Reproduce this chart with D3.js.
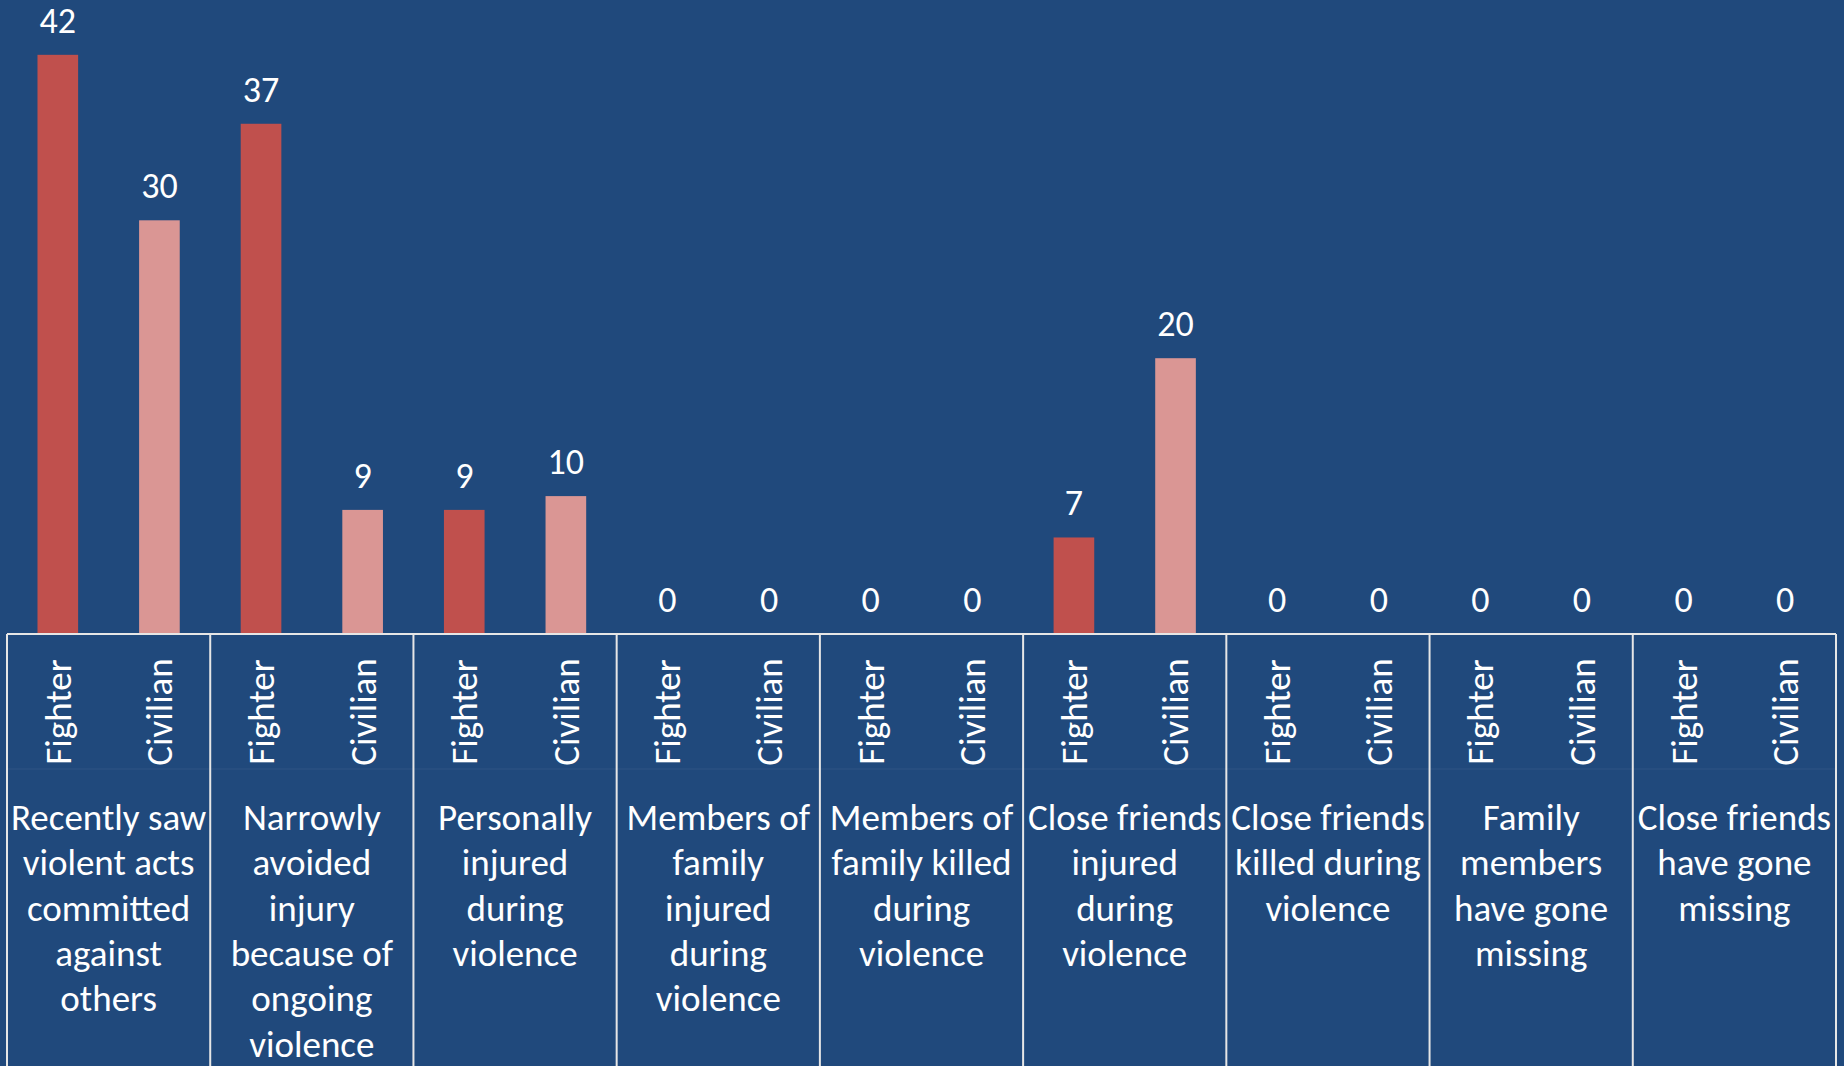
<!DOCTYPE html>
<html>
<head>
<meta charset="utf-8">
<script src="https://cdn.jsdelivr.net/npm/d3@7"></script>
<style>
  html, body { margin: 0; padding: 0; background: #20497C; }
  svg { display: block; }
  text { font-family: Carlito, Lato, "Open Sans", sans-serif; fill: #ffffff; }
</style>
</head>
<body>
<div id="chart"></div>
<script>
// Chart data
var categories = [
  "Recently saw violent acts committed against others",
  "Narrowly avoided injury because of ongoing violence",
  "Personally injured during violence",
  "Members of family injured during violence",
  "Members of family killed during violence",
  "Close friends injured during violence",
  "Close friends killed during violence",
  "Family members have gone missing",
  "Close friends have gone missing"
];
// wrapped lines of the category labels, as drawn in the picture
var categoryLines = [
  ["Recently saw", "violent acts", "committed", "against", "others"],
  ["Narrowly", "avoided", "injury", "because of", "ongoing", "violence"],
  ["Personally", "injured", "during", "violence"],
  ["Members of", "family", "injured", "during", "violence"],
  ["Members of", "family killed", "during", "violence"],
  ["Close friends", "injured", "during", "violence"],
  ["Close friends", "killed during", "violence"],
  ["Family", "members", "have gone", "missing"],
  ["Close friends", "have gone", "missing"]
];
var seriesNames = ["Fighter", "Civilian"];
var fighterValues = [42, 37, 9, 0, 0, 7, 0, 0, 0];
var civilianValues = [30, 9, 10, 0, 0, 20, 0, 0, 0];
var yMax = 45;

var svgWidth = 1844;
var svgHeight = 1066;
var colors = { Fighter: "#C0504D", Civilian: "#DA9694" };

var svg = d3.select("#chart")
  .append("svg")
  .attr("width", svgWidth)
  .attr("height", svgHeight);

svg.append("rect")
  .attr("width", svgWidth)
  .attr("height", svgHeight)
  .attr("fill", "#20497C");

var baseY = 634;

// Scales
var x0 = d3.scaleBand()
  .domain(categories)
  .range([7, 1836]);

var x1 = d3.scaleBand()
  .domain(seriesNames)
  .range([0, x0.bandwidth()]);

var y = d3.scaleLinear()
  .domain([0, yMax])
  .range([baseY, baseY - yMax * 13.79]);

var rows = [];
categories.forEach(function (c, i) {
  rows.push({ cat: c, series: "Fighter", value: fighterValues[i] });
  rows.push({ cat: c, series: "Civilian", value: civilianValues[i] });
});

var barW = x1.bandwidth() * 0.4;

// Bars
svg.append("g").selectAll("rect")
  .data(rows)
  .enter()
  .append("rect")
  .attr("x", d => x0(d.cat) + x1(d.series) + (x1.bandwidth() - barW) / 2)
  .attr("y", d => y(d.value))
  .attr("width", barW)
  .attr("height", d => baseY - y(d.value))
  .attr("fill", d => colors[d.series]);

// Value labels
svg.append("g").selectAll("text")
  .data(rows)
  .enter()
  .append("text")
  .attr("x", d => x0(d.cat) + x1(d.series) + x1.bandwidth() / 2)
  .attr("y", d => y(d.value) - 22)
  .attr("text-anchor", "middle")
  .style("font-size", "36px")
  .text(d => d.value);

// Axis lines: baseline, faint row separator, group dividers
var axisG = svg.append("g");
axisG.append("line")
  .attr("x1", x0.range()[0]).attr("x2", x0.range()[1])
  .attr("y1", baseY).attr("y2", baseY)
  .attr("stroke", "#E6E6E6").attr("stroke-width", 2);

axisG.append("line")
  .attr("x1", x0.range()[0]).attr("x2", x0.range()[1])
  .attr("y1", 769).attr("y2", 769)
  .attr("stroke", "#8096B4").attr("stroke-width", 1)
  .attr("opacity", 0.15);

var dividers = categories.map(c => x0(c)).concat([x0.range()[1]]);
axisG.selectAll(".div")
  .data(dividers)
  .enter()
  .append("line")
  .attr("x1", d => d).attr("x2", d => d)
  .attr("y1", baseY).attr("y2", svgHeight)
  .attr("stroke", "#E6E6E6").attr("stroke-width", 2);

// Rotated series labels
svg.append("g").selectAll("text")
  .data(rows)
  .enter()
  .append("text")
  .attr("transform", d => `translate(${x0(d.cat) + x1(d.series) + x1.bandwidth() / 2}, 712) rotate(-90)`)
  .attr("text-anchor", "middle")
  .attr("dy", "0.35em")
  .style("font-size", "37px")
  .text(d => d.series);

// Category labels
var catText = svg.append("g").selectAll("text")
  .data(categories)
  .enter()
  .append("text")
  .attr("x", d => x0(d) + x0.bandwidth() / 2)
  .attr("y", 830)
  .attr("text-anchor", "middle")
  .style("font-size", "37px");

catText.selectAll("tspan")
  .data((d, i) => categoryLines[i])
  .enter()
  .append("tspan")
  .attr("x", function () { return d3.select(this.parentNode).attr("x"); })
  .attr("y", (d, i) => 830 + i * 45.3)
  .text(d => d);
</script>
</body>
</html>
